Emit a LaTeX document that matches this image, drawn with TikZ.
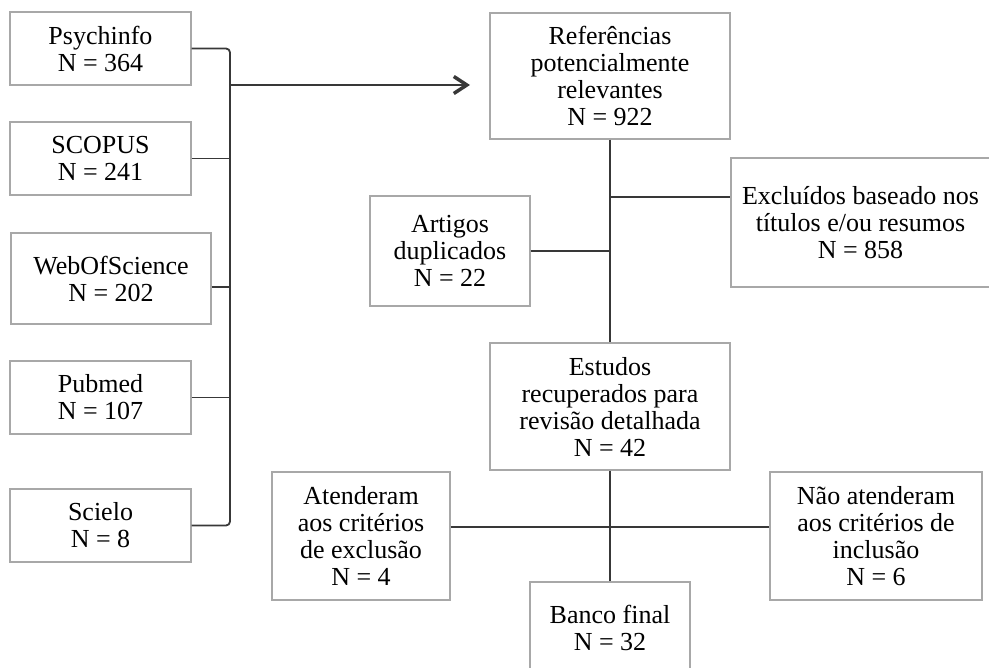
\documentclass[tikz,border=0pt]{standalone}
\usepackage{fontspec}
\setmainfont{Liberation Serif}
\usetikzlibrary{arrows.meta}
\definecolor{boxgray}{HTML}{A8A8A8}
\definecolor{linegray}{HTML}{383838}
\begin{document}
\begin{tikzpicture}[x=1pt,y=-1pt,
  box/.style={draw=boxgray, line width=1.2pt, align=center, inner sep=0pt,
    font=\fontsize{26}{27}\selectfont},
  conn/.style={draw=linegray, line width=1.8pt}]
\clip (0,0) rectangle (989,668);
\useasboundingbox (0,0) rectangle (989,668);
% left column
\node[box, minimum width=181pt, minimum height=73pt] (ps) at (100.5,48.5) {Psychinfo\\N = 364};
\node[box, minimum width=181pt, minimum height=73pt] (sc) at (100.5,158.5) {SCOPUS\\N = 241};
\node[box, minimum width=200pt, minimum height=91pt] (ws) at (111,278.5) {WebOfScience\\N = 202};
\node[box, minimum width=181pt, minimum height=73pt] (pm) at (100.5,397.5) {Pubmed\\N = 107};
\node[box, minimum width=181pt, minimum height=73pt] (si) at (100.5,525.5) {Scielo\\N = 8};
% right part
\node[box, minimum width=240pt, minimum height=126pt] (ref) at (610,76) {Referências\\potencialmente\\relevantes\\N = 922};
\node[box, minimum width=259pt, minimum height=129pt] (exc) at (860.5,222.5) {Excluídos baseado nos\\títulos e/ou resumos\\N = 858};
\node[box, minimum width=160pt, minimum height=110pt] (art) at (450,251) {Artigos\\duplicados\\N = 22};
\node[box, minimum width=240pt, minimum height=127pt] (est) at (610,406.5) {Estudos\\recuperados para\\revisão detalhada\\N = 42};
\node[box, minimum width=178pt, minimum height=128pt] (ate) at (361,536) {Atenderam\\aos critérios\\de exclusão\\N = 4};
\node[box, minimum width=212pt, minimum height=128pt] (nao) at (876,536) {Não atenderam\\aos critérios de\\inclusão\\N = 6};
\node[box, minimum width=160pt, minimum height=92pt] (ban) at (610,628) {Banco final\\N = 32};
% bracket
\coordinate (jn) at (230,85);
\coordinate (tip) at (470,85);
\draw[conn, rounded corners=4pt] (ps.east) -- (ps.east -| jn) -- (si.east -| jn) -- (si.east);
\draw[conn] (sc.east) -- (sc.east -| jn);
\coordinate (wsy) at (0,287);
\draw[conn] (wsy -| ws.east) -- (wsy -| jn);
\draw[conn] (pm.east) -- (pm.east -| jn);
\draw[conn, -{Straight Barb[length=13pt,width=17pt,line width=3.5pt]}] (jn) -- (tip);
% flow
\draw[conn] (ref.south) -- (est.north);
\coordinate (j1) at (610,197);
\draw[conn] (j1) -- (j1 -| exc.west);
\draw[conn] (art.east) -- (art.east -| ref.south);
\draw[conn] (est.south) -- (ban.north);
\coordinate (j2) at (610,527);
\draw[conn] (j2 -| ate.east) -- (j2 -| nao.west);
\end{tikzpicture}
\end{document}
